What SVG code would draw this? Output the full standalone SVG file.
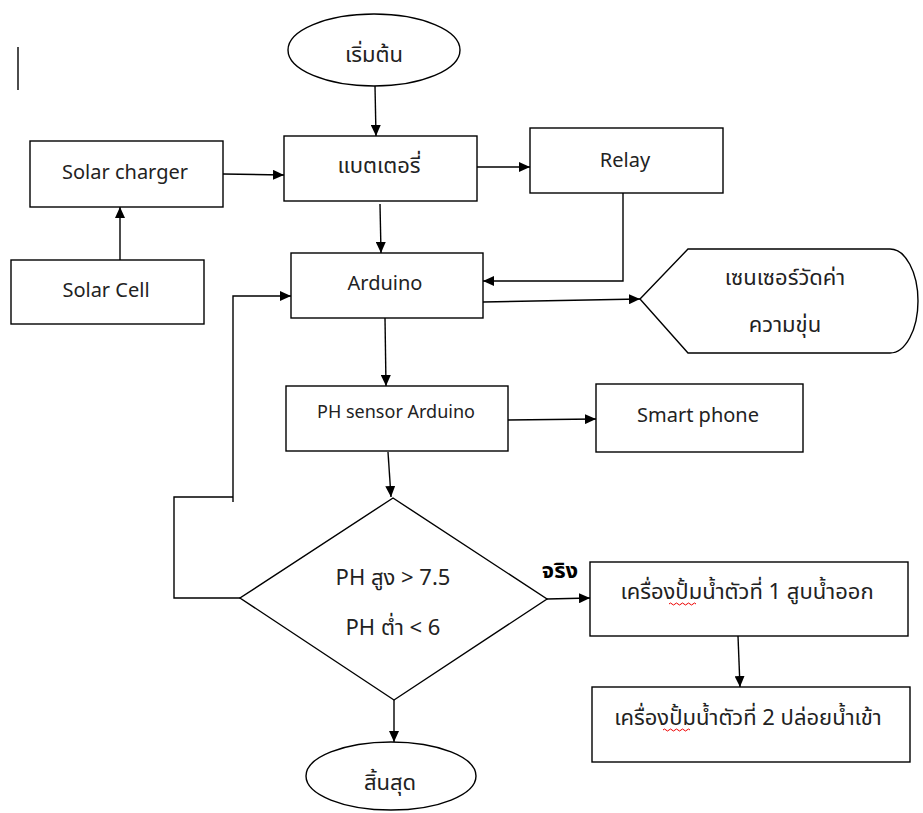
<svg xmlns="http://www.w3.org/2000/svg" width="923" height="813" viewBox="0 0 923 813">
<style>
.s{fill:#fff;stroke:#000;stroke-width:1.4}
.c{fill:none;stroke:#000;stroke-width:1.4}
.t{font-family:"Noto Sans","Noto Sans Thai",Tahoma,"DejaVu Sans",sans-serif;fill:#222;text-anchor:middle}
.l{font-size:20px}
.th{font-size:22px}
.b{font-weight:bold;fill:#000}
.sq{fill:none;stroke:#e00;stroke-width:1}
</style>
<defs>
<marker id="ah" markerUnits="userSpaceOnUse" markerWidth="12" markerHeight="10" refX="11" refY="5" orient="auto">
<path d="M0,0 L11,5 L0,10 Z" fill="#000"/>
</marker>
</defs>
<rect width="923" height="813" fill="#fff"/>
<line x1="18" y1="47" x2="18" y2="90" stroke="#000" stroke-width="1.4"/>

<g id="start">
<ellipse class="s" cx="374" cy="50" rx="86" ry="36"/>
<text class="t th" x="374" y="62">เริ่มต้น</text>
</g>
<g id="battery">
<rect class="s" x="284" y="136" width="193" height="65"/>
<text class="t th" x="379" y="173">แบตเตอรี่</text>
</g>
<g id="solar-charger">
<rect class="s" x="30" y="141" width="193" height="66"/>
<text class="t l" x="125" y="179">Solar charger</text>
</g>
<g id="solar-cell">
<rect class="s" x="11" y="260" width="193" height="64"/>
<text class="t l" x="106" y="297">Solar Cell</text>
</g>
<g id="relay">
<rect class="s" x="530" y="128" width="193" height="65"/>
<text class="t l" x="625" y="167">Relay</text>
</g>
<g id="arduino">
<rect class="s" x="291" y="253" width="192" height="65"/>
<text class="t l" x="385" y="290">Arduino</text>
</g>
<g id="turbidity-sensor">
<path class="s" d="M640,299 L688,249 L890,249 A28,52 0 0 1 890,353 L688,353 Z"/>
<text class="t th" x="785" y="285">เซนเซอร์วัดค่า</text>
<text class="t th" x="785" y="332">ความขุ่น</text>
</g>
<g id="ph-sensor">
<rect class="s" x="286" y="386" width="222" height="65"/>
<text class="t" style="font-size:18px" x="396" y="418">PH sensor Arduino</text>
</g>
<g id="smart-phone">
<rect class="s" x="596" y="384" width="207" height="68"/>
<text class="t l" x="698" y="422">Smart phone</text>
</g>
<g id="decision">
<path class="s" d="M393,498 L547,599 L394,700 L240,598 Z"/>
<text class="t th" x="393" y="585">PH สูง &gt; 7.5</text>
<text class="t th" x="393" y="635">PH ต่ำ &lt; 6</text>
</g>
<g id="pump1">
<rect class="s" x="590" y="562" width="318" height="74"/>
<text class="t th" x="747" y="599">เครื่องปั้มน้ำตัวที่ 1 สูบน้ำออก</text>
<path class="sq" d="M669,604 q1.5,-2 3,0 t3,0 t3,0 t3,0 t3,0 t3,0 t3,0 t3,0 t3,0"/>
</g>
<g id="pump2">
<rect class="s" x="592" y="687" width="318" height="75"/>
<text class="t th" x="748" y="725">เครื่องปั้มน้ำตัวที่ 2 ปล่อยน้ำเข้า</text>
<path class="sq" d="M663,730 q1.5,-2 3,0 t3,0 t3,0 t3,0 t3,0 t3,0 t3,0 t3,0 t3,0"/>
</g>
<g id="end">
<ellipse class="s" cx="391" cy="776" rx="85" ry="34"/>
<text class="t th" x="390" y="790">สิ้นสุด</text>
</g>

<g id="connectors">
<line class="c" x1="375" y1="86" x2="376" y2="136" marker-end="url(#ah)"/>
<line class="c" x1="223" y1="174" x2="284" y2="175" marker-end="url(#ah)"/>
<line class="c" x1="120" y1="260" x2="120" y2="207" marker-end="url(#ah)"/>
<line class="c" x1="477" y1="167" x2="530" y2="167" marker-end="url(#ah)"/>
<line class="c" x1="380" y1="204" x2="381" y2="253" marker-end="url(#ah)"/>
<polyline class="c" points="623,193 623,281 483,281" marker-end="url(#ah)"/>
<line class="c" x1="483" y1="302" x2="640" y2="299" marker-end="url(#ah)"/>
<line class="c" x1="385" y1="318" x2="386" y2="386" marker-end="url(#ah)"/>
<line class="c" x1="508" y1="420" x2="596" y2="419" marker-end="url(#ah)"/>
<line class="c" x1="388" y1="452" x2="391" y2="497" marker-end="url(#ah)"/>
<line class="c" x1="547" y1="599" x2="590" y2="598" marker-end="url(#ah)"/>
<line class="c" x1="738" y1="636" x2="740" y2="687" marker-end="url(#ah)"/>
<line class="c" x1="394" y1="700" x2="394" y2="742" marker-end="url(#ah)"/>
<polyline class="c" points="240,598 174,598 174,497 233,497"/>
<polyline class="c" points="233,502 233,296 291,296" marker-end="url(#ah)"/>
<text class="t th b" x="560" y="578">จริง</text>
</g>
</svg>
